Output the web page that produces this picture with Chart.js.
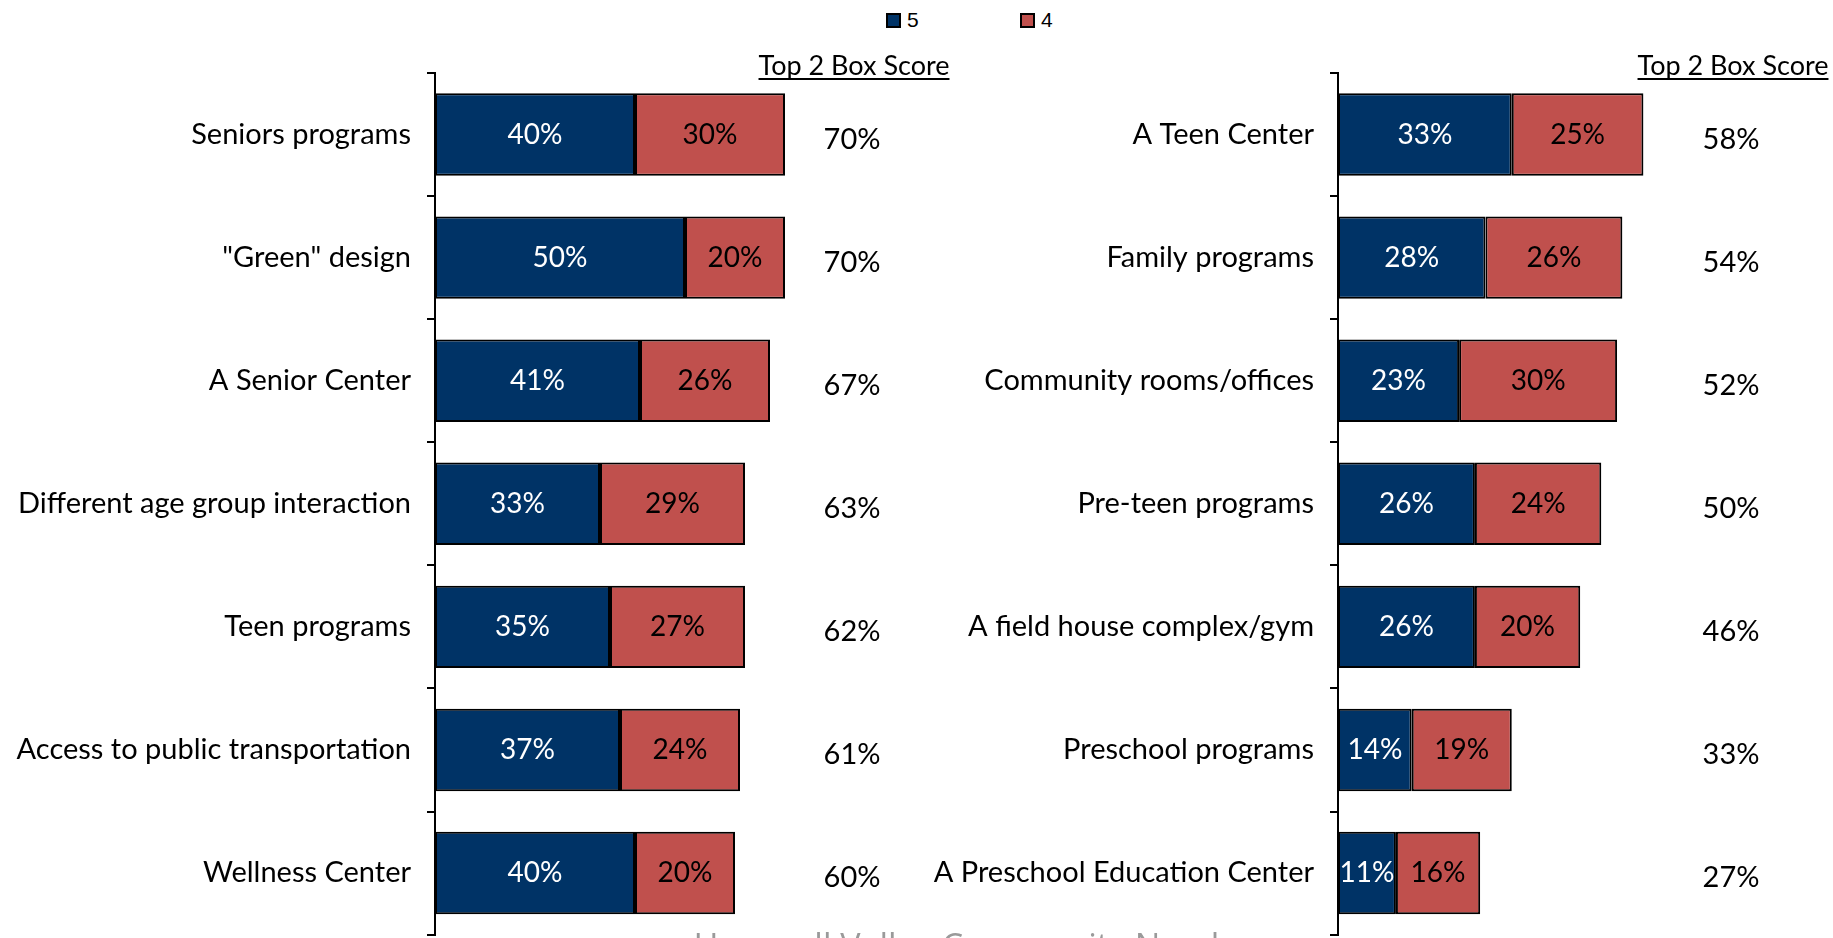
<!DOCTYPE html>
<html>
<head>
<meta charset="utf-8">
<script src="https://cdn.jsdelivr.net/npm/chart.js@4.4.1/dist/chart.umd.min.js"></script>
<style>
  html, body { margin: 0; padding: 0; background: #fff; }
  body { width: 1833px; height: 938px; position: relative; overflow: hidden; }
  .box { position: absolute; }
  #leftBox { left: 0; top: 0; width: 960px; height: 968px; }
  #rightBox { left: 900px; top: 0; width: 933px; height: 968px; }
  .legend { position: absolute; top: 8px; font-family: "Liberation Sans", Arial, sans-serif; font-size: 21px; color: #000; }
  .legend span.sw { display: inline-block; width: 11px; height: 11px; border: 2px solid #000; vertical-align: -1px; margin-right: 6px; }
  #footer { position: absolute; left: 48px; width: 1833px; top: 922px; text-align: center; font-family: "Open Sans", sans-serif; font-size: 34px; color: #9a9a9a; }
</style>
</head>
<body>
<div class="legend" style="left:886px"><span class="sw" style="background:#003366"></span>5</div>
<div class="legend" style="left:1020px"><span class="sw" style="background:#c0504d"></span>4</div>
<div class="box" id="leftBox"><canvas id="leftChart"></canvas></div>
<div class="box" id="rightBox"><canvas id="rightChart"></canvas></div>
<div id="footer">Hamwell Valley Community Needs</div>
<script>
// left panel
var leftLabels = ["Seniors programs", "\"Green\" design", "A Senior Center", "Different age group interaction", "Teen programs", "Access to public transportation", "Wellness Center"];
var left5 = [40, 50, 41, 33, 35, 37, 40];
var left4 = [30, 20, 26, 29, 27, 24, 20];
var leftTop2 = [70, 70, 67, 63, 62, 61, 60];

// right panel
var rightLabels = ["A Teen Center", "Family programs", "Community rooms/offices", "Pre-teen programs", "A field house complex/gym", "Preschool programs", "A Preschool Education Center"];
var right5 = [33, 28, 23, 26, 26, 14, 11];
var right4 = [25, 26, 30, 24, 20, 19, 16];
var rightTop2 = [58, 54, 52, 50, 46, 33, 27];

var FONT = "Lato, 'Open Sans', sans-serif";

// draws % inside each bar segment + the Top 2 Box column
var labelPlugin = {
  id: 'boxLabels',
  afterDatasetsDraw: function(chart, args, opts) {
    var ctx = chart.ctx;
    ctx.save();
    ctx.font = "28px " + FONT;
    ctx.textAlign = 'center';
    ctx.textBaseline = 'middle';
    chart.data.datasets.forEach(function(ds, i) {
      chart.getDatasetMeta(i).data.forEach(function(bar, j) {
        var x = (bar.x + bar.base) / 2;
        ctx.fillStyle = i === 0 ? '#fff' : '#000';
        ctx.fillText(ds.data[j] + '%', x, bar.y);
      });
    });
    var area = chart.chartArea;
    var yScale = chart.scales.y;
    var tx = area.left + opts.colOffset;
    ctx.fillStyle = '#000';
    ctx.font = "29px " + FONT;
    opts.totals.forEach(function(v, j) {
      ctx.fillText(v + '%', tx, yScale.getPixelForValue(j) + 5);
    });
    // header
    ctx.font = "27px " + FONT;
    ctx.textBaseline = 'alphabetic';
    var hx = area.left + opts.headOffset;
    ctx.fillText('Top 2 Box Score', hx, 75);
    var w = ctx.measureText('Top 2 Box Score').width;
    ctx.fillRect(hx - w / 2, 78, w, 2);
    ctx.restore();
  }
};

function makeChart(id, labels, d5, d4, totals, axisW, xMax, padRight, colOffset, headOffset) {
  return new Chart(document.getElementById(id), {
    type: 'bar',
    data: {
      labels: labels,
      datasets: [
        { label: '5', data: d5, backgroundColor: '#003366', borderColor: '#000', borderWidth: 2, borderSkipped: false },
        { label: '4', data: d4, backgroundColor: '#c0504d', borderColor: '#000', borderWidth: 2, borderSkipped: false }
      ]
    },
    options: {
      indexAxis: 'y',
      responsive: true,
      maintainAspectRatio: false,
      animation: false,
      layout: { autoPadding: false, padding: { top: 73, bottom: 2, right: padRight, left: 0 } },
      datasets: { bar: { barPercentage: 0.67, categoryPercentage: 1 } },
      plugins: {
        legend: { display: false },
        tooltip: { enabled: false },
        boxLabels: { totals: totals, colOffset: colOffset, headOffset: headOffset }
      },
      scales: {
        x: { stacked: true, min: 0, max: xMax, display: false },
        y: {
          stacked: true,
          afterFit: function(scale) { scale.width = axisW; },
          border: { display: true, color: '#000', width: 2 },
          grid: { offset: true, drawOnChartArea: false, color: '#000', lineWidth: 2, tickLength: 8 },
          ticks: { color: '#000', padding: 16, font: { family: FONT, size: 29 } }
        }
      }
    },
    plugins: [labelPlugin]
  });
}

makeChart('leftChart', leftLabels, left5, left4, leftTop2, 435, 100, 25, 417, 419);
makeChart('rightChart', rightLabels, right5, right4, rightTop2, 438, 94, 0, 393, 395);
</script>
</body>
</html>
